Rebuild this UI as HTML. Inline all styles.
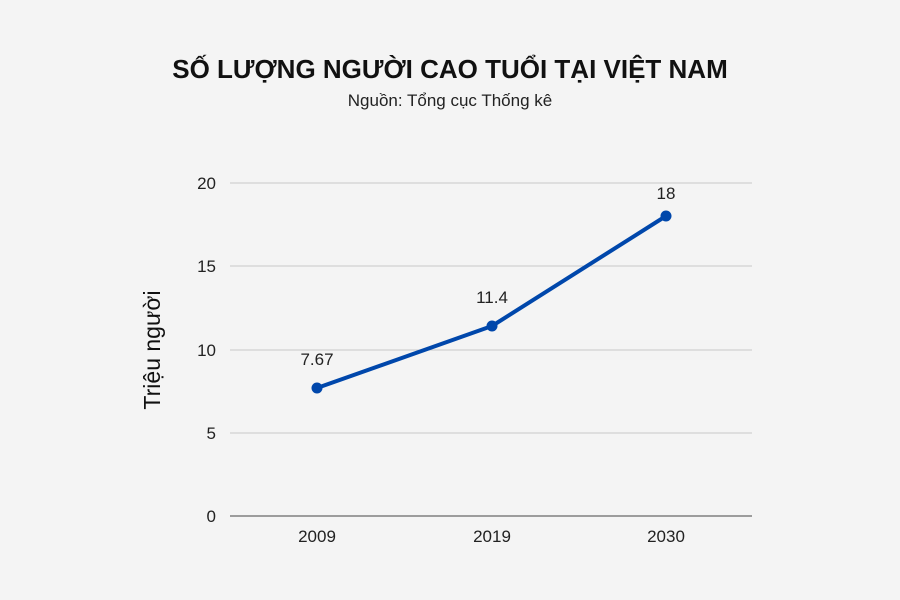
<!DOCTYPE html>
<html><head><meta charset="utf-8"><style>
html,body{margin:0;padding:0;background:#f4f4f4;}
svg{display:block;font-family:"Liberation Sans",sans-serif;}
</style></head><body>
<svg width="900" height="600" viewBox="0 0 900 600">
<rect width="900" height="600" fill="#f4f4f4"/>
<text x="450" y="78" text-anchor="middle" font-size="26" font-weight="bold" fill="#111">SỐ LƯỢNG NGƯỜI CAO TUỔI TẠI VIỆT NAM</text>
<text x="450" y="106" text-anchor="middle" font-size="17" fill="#222">Nguồn: Tổng cục Thống kê</text>
<g stroke="#c8c8c8" stroke-width="1">
<line x1="230" y1="183" x2="752" y2="183"/>
<line x1="230" y1="266" x2="752" y2="266"/>
<line x1="230" y1="350" x2="752" y2="350"/>
<line x1="230" y1="433" x2="752" y2="433"/>
</g>
<line x1="230" y1="516" x2="752" y2="516" stroke="#444" stroke-width="1"/>
<g font-size="17" fill="#222" text-anchor="end">
<text x="216" y="189">20</text>
<text x="216" y="272">15</text>
<text x="216" y="356">10</text>
<text x="216" y="439">5</text>
<text x="216" y="522">0</text>
</g>
<g font-size="17" fill="#222" text-anchor="middle">
<text x="317" y="542">2009</text>
<text x="492" y="542">2019</text>
<text x="666" y="542">2030</text>
</g>
<text transform="translate(160,350) rotate(-90)" text-anchor="middle" font-size="23" fill="#111">Triệu người</text>
<polyline points="317,388 492,326 666,216" fill="none" stroke="#0047ab" stroke-width="4" stroke-linejoin="round"/>
<g fill="#0047ab">
<circle cx="317" cy="388" r="5.5"/>
<circle cx="492" cy="326" r="5.5"/>
<circle cx="666" cy="216" r="5.5"/>
</g>
<g font-size="17" fill="#222" text-anchor="middle">
<text x="317" y="365">7.67</text>
<text x="492" y="303">11.4</text>
<text x="666" y="199">18</text>
</g>
</svg>
</body></html>
